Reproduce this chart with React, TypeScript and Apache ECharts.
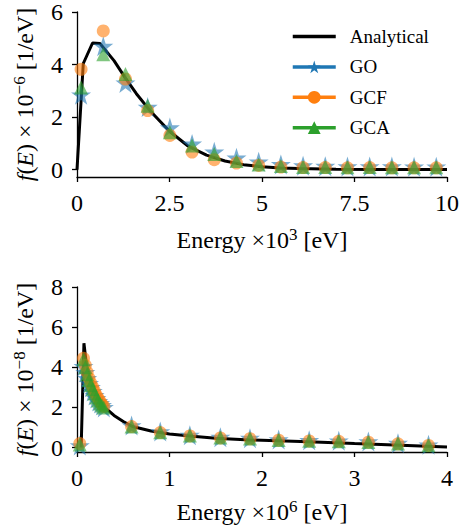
import React, { useEffect, useRef } from "react";
import * as echarts from "echarts";

// ---------- Data ----------
// Top panel: Energy x10^3 eV, f(E) x10^-6 1/eV
const TOP_LINE_E = [0, 0.17, 0.42, 0.62, 1.0, 1.3, 1.6, 2.0, 2.5, 3.0, 3.5, 4.0, 4.5, 5.0, 5.5, 6.0, 7.0, 8.0, 9.0, 10.0];
const TOP_LINE_F = [0, 4.04, 4.82, 4.8, 4.15, 3.5, 2.9, 2.2, 1.46, 0.9, 0.55, 0.33, 0.19, 0.11, 0.06, 0.04, 0.015, 0.006, 0.003, 0.001];
const TOP_E = [0.11, 0.71, 1.31, 1.91, 2.51, 3.11, 3.71, 4.31, 4.91, 5.51, 6.11, 6.71, 7.31, 7.91, 8.51, 9.11, 9.71];
const TOP_GO = [2.85, 4.7, 3.3, 2.38, 1.6, 0.98, 0.68, 0.45, 0.3, 0.2, 0.15, 0.13, 0.12, 0.12, 0.12, 0.11, 0.11];
const TOP_GCF = [3.82, 5.28, 3.45, 2.25, 1.3, 0.67, 0.38, 0.25, 0.16, 0.1, 0.08, 0.08, 0.07, 0.08, 0.07, 0.07, 0.07];
const TOP_GCA = [3.13, 4.39, 3.64, 2.43, 1.42, 0.92, 0.6, 0.33, 0.2, 0.14, 0.1, 0.1, 0.09, 0.1, 0.09, 0.09, 0.09];

// Bottom panel: Energy x10^6 eV, f(E) x10^-8 1/eV
const BOT_LINE_E = [0.045, 0.075, 0.1, 0.15, 0.2, 0.3, 0.4, 0.5, 0.6, 0.8, 1.0, 1.25, 1.5, 1.87, 2.5, 3.0, 3.5, 4.0];
const BOT_LINE_F = [0, 5.2, 4.2, 3.25, 2.65, 2.0, 1.6, 1.3, 1.05, 0.83, 0.68, 0.56, 0.47, 0.38, 0.29, 0.2, 0.12, 0.03];
const BOT_E = [0.03, 0.07, 0.09, 0.11, 0.13, 0.15, 0.17, 0.19, 0.21, 0.23, 0.25, 0.27, 0.29, 0.59, 0.9, 1.22, 1.55, 1.87, 2.18, 2.51, 2.83, 3.15, 3.47, 3.8];
const BOT_GO = [0.1, 4.05, 3.75, 3.45, 3.2, 3.0, 2.8, 2.6, 2.45, 2.3, 2.2, 2.1, 2.0, 1.1, 0.8, 0.62, 0.52, 0.47, 0.4, 0.36, 0.34, 0.3, 0.22, 0.14];
const BOT_GCF = [0.2, 4.45, 4.1, 3.75, 3.45, 3.2, 3.0, 2.8, 2.6, 2.45, 2.3, 2.15, 2.05, 1.05, 0.75, 0.58, 0.48, 0.44, 0.37, 0.33, 0.31, 0.27, 0.19, 0.11];
const BOT_GCA = [0.15, 4.4, 4.0, 3.65, 3.35, 3.1, 2.9, 2.7, 2.5, 2.35, 2.2, 2.1, 2.0, 1.05, 0.77, 0.6, 0.5, 0.45, 0.38, 0.34, 0.32, 0.28, 0.2, 0.12];

const TOP_Y_TICKS = [0, 2, 4, 6];
const BOT_Y_TICKS = [0, 2, 4, 6, 8];

const SERIES_NAMES = ["Analytical", "GO", "GCF", "GCA"];
const COLORS = ["#000000", "#1f77b4", "#ff7f0e", "#2ca02c"];

// ---------- Styling ----------
const FONT = "Liberation Serif";

function starPath(): string {
  const pts: string[] = [];
  for (let i = 0; i < 10; i++) {
    const a = Math.PI / 2 + (i * Math.PI) / 5;
    const r = i % 2 === 0 ? 1 : 0.381966;
    const x = r * Math.cos(a);
    const y = -r * Math.sin(a);
    pts.push(`${i === 0 ? "M" : "L"}${x.toFixed(4)} ${y.toFixed(4)}`);
  }
  return "path://" + pts.join(" ") + " Z";
}
const STAR = starPath();

const pairs = (xs: number[], ys: number[]) => xs.map((x, i) => [x, ys[i]]);

function analytical(xs: number[], ys: number[], idx: number) {
  return {
    name: SERIES_NAMES[0],
    type: "line",
    xAxisIndex: idx,
    yAxisIndex: idx,
    data: pairs(xs, ys),
    symbol: "none",
    showSymbol: false,
    lineStyle: { color: COLORS[0], width: 3 },
    itemStyle: { color: COLORS[0] },
    z: 2,
    silent: true,
  };
}

function markers(k: number, symbol: string, size: number, xs: number[], ys: number[], idx: number) {
  return {
    name: SERIES_NAMES[k],
    type: "line",
    xAxisIndex: idx,
    yAxisIndex: idx,
    data: pairs(xs, ys),
    symbol,
    symbolSize: size,
    showSymbol: true,
    showAllSymbol: true,
    lineStyle: { color: COLORS[k], width: 0, opacity: 0 },
    itemStyle: { color: COLORS[k], opacity: 0.6 },
    z: 3 + k,
    silent: true,
  };
}

const tickStyle = { color: "#000", width: 1.3 };

function xAxis(idx: number, max: number, interval: number, sup: string, nameGap: number) {
  return {
    type: "value",
    gridIndex: idx,
    min: 0,
    max,
    interval,
    axisLine: { show: true, onZero: false, lineStyle: tickStyle },
    axisTick: { show: true, length: 5, lineStyle: tickStyle },
    splitLine: { show: false },
    axisLabel: { fontFamily: FONT, fontSize: 24, color: "#000", margin: 14 },
    name: `{n|Energy ×10}{s|${sup}}{n| [eV]}`,
    nameLocation: "middle",
    nameGap,
    nameTextStyle: {
      fontFamily: FONT,
      fontSize: 24,
      color: "#000",
      rich: {
        n: { fontFamily: FONT, fontSize: 24, lineHeight: 28, color: "#000" },
        s: { fontFamily: FONT, fontSize: 17, lineHeight: 14, verticalAlign: "top", color: "#000" },
      },
    },
  };
}

function yAxis(idx: number, min: number, max: number, ticks: number[], sup: string) {
  return {
    type: "value",
    gridIndex: idx,
    min,
    max,
    axisLine: { show: true, onZero: false, lineStyle: tickStyle },
    axisTick: { show: true, length: 5, lineStyle: tickStyle, customValues: ticks },
    splitLine: { show: false },
    axisLabel: { fontFamily: FONT, fontSize: 24, color: "#000", margin: 14, customValues: ticks },
    name: `{i|f}({i|E}) × 10{s|${sup}} [1/eV]`,
    nameLocation: "middle",
    nameRotate: 90,
    nameGap: 38,
    nameTextStyle: {
      fontFamily: FONT,
      fontSize: 24,
      color: "#000",
      rich: {
        n: { fontFamily: FONT, fontSize: 24, lineHeight: 28, color: "#000" },
        i: { fontFamily: FONT, fontSize: 24, lineHeight: 28, fontStyle: "italic", color: "#000" },
        s: { fontFamily: FONT, fontSize: 17, lineHeight: 14, verticalAlign: "top", color: "#000" },
      },
    },
  };
}

export default function App() {
  const ref = useRef<HTMLDivElement>(null);

  useEffect(() => {
    if (!ref.current) return;
    const chart = echarts.init(ref.current, null, { renderer: "svg" });
    const option = {
      animation: false,
      backgroundColor: "#ffffff",
      textStyle: { fontFamily: FONT },
      grid: [
        { left: 77, right: 15, top: 11, height: 166 },
        { left: 77, right: 15, top: 287, height: 165 },
      ],
      legend: {
        orient: "vertical",
        left: 291,
        top: 27,
        itemWidth: 43,
        itemHeight: 16,
        itemGap: 11.4,
        padding: 0,
        selectedMode: false,
        textStyle: { fontFamily: FONT, fontSize: 19, color: "#000", padding: [0, 0, 0, 9] },
        data: SERIES_NAMES.map((name, k) => ({
          name,
          itemStyle: { opacity: k === 0 ? 0 : 1 },
          lineStyle: { opacity: 1, width: 3.5, color: COLORS[k] },
        })),
      },
      xAxis: [xAxis(0, 10, 2.5, "3", 49), xAxis(1, 4, 1, "6", 46)],
      yAxis: [yAxis(0, -0.28, 6, TOP_Y_TICKS, "−6"), yAxis(1, -0.22, 8, BOT_Y_TICKS, "−8")],
      series: [
        analytical(TOP_LINE_E, TOP_LINE_F, 0),
        markers(1, STAR, 20, TOP_E, TOP_GO, 0),
        markers(2, "circle", 13, TOP_E, TOP_GCF, 0),
        markers(3, "triangle", 14, TOP_E, TOP_GCA, 0),
        analytical(BOT_LINE_E, BOT_LINE_F, 1),
        markers(1, STAR, 20, BOT_E, BOT_GO, 1),
        markers(2, "circle", 13, BOT_E, BOT_GCF, 1),
        markers(3, "triangle", 14, BOT_E, BOT_GCA, 1),
      ],
    };
    chart.setOption(option as any);
    return () => chart.dispose();
  }, []);

  return (
    <div
      ref={ref}
      style={{ position: "fixed", left: 0, top: 0, width: 462, height: 529, background: "#fff" }}
    />
  );
}
